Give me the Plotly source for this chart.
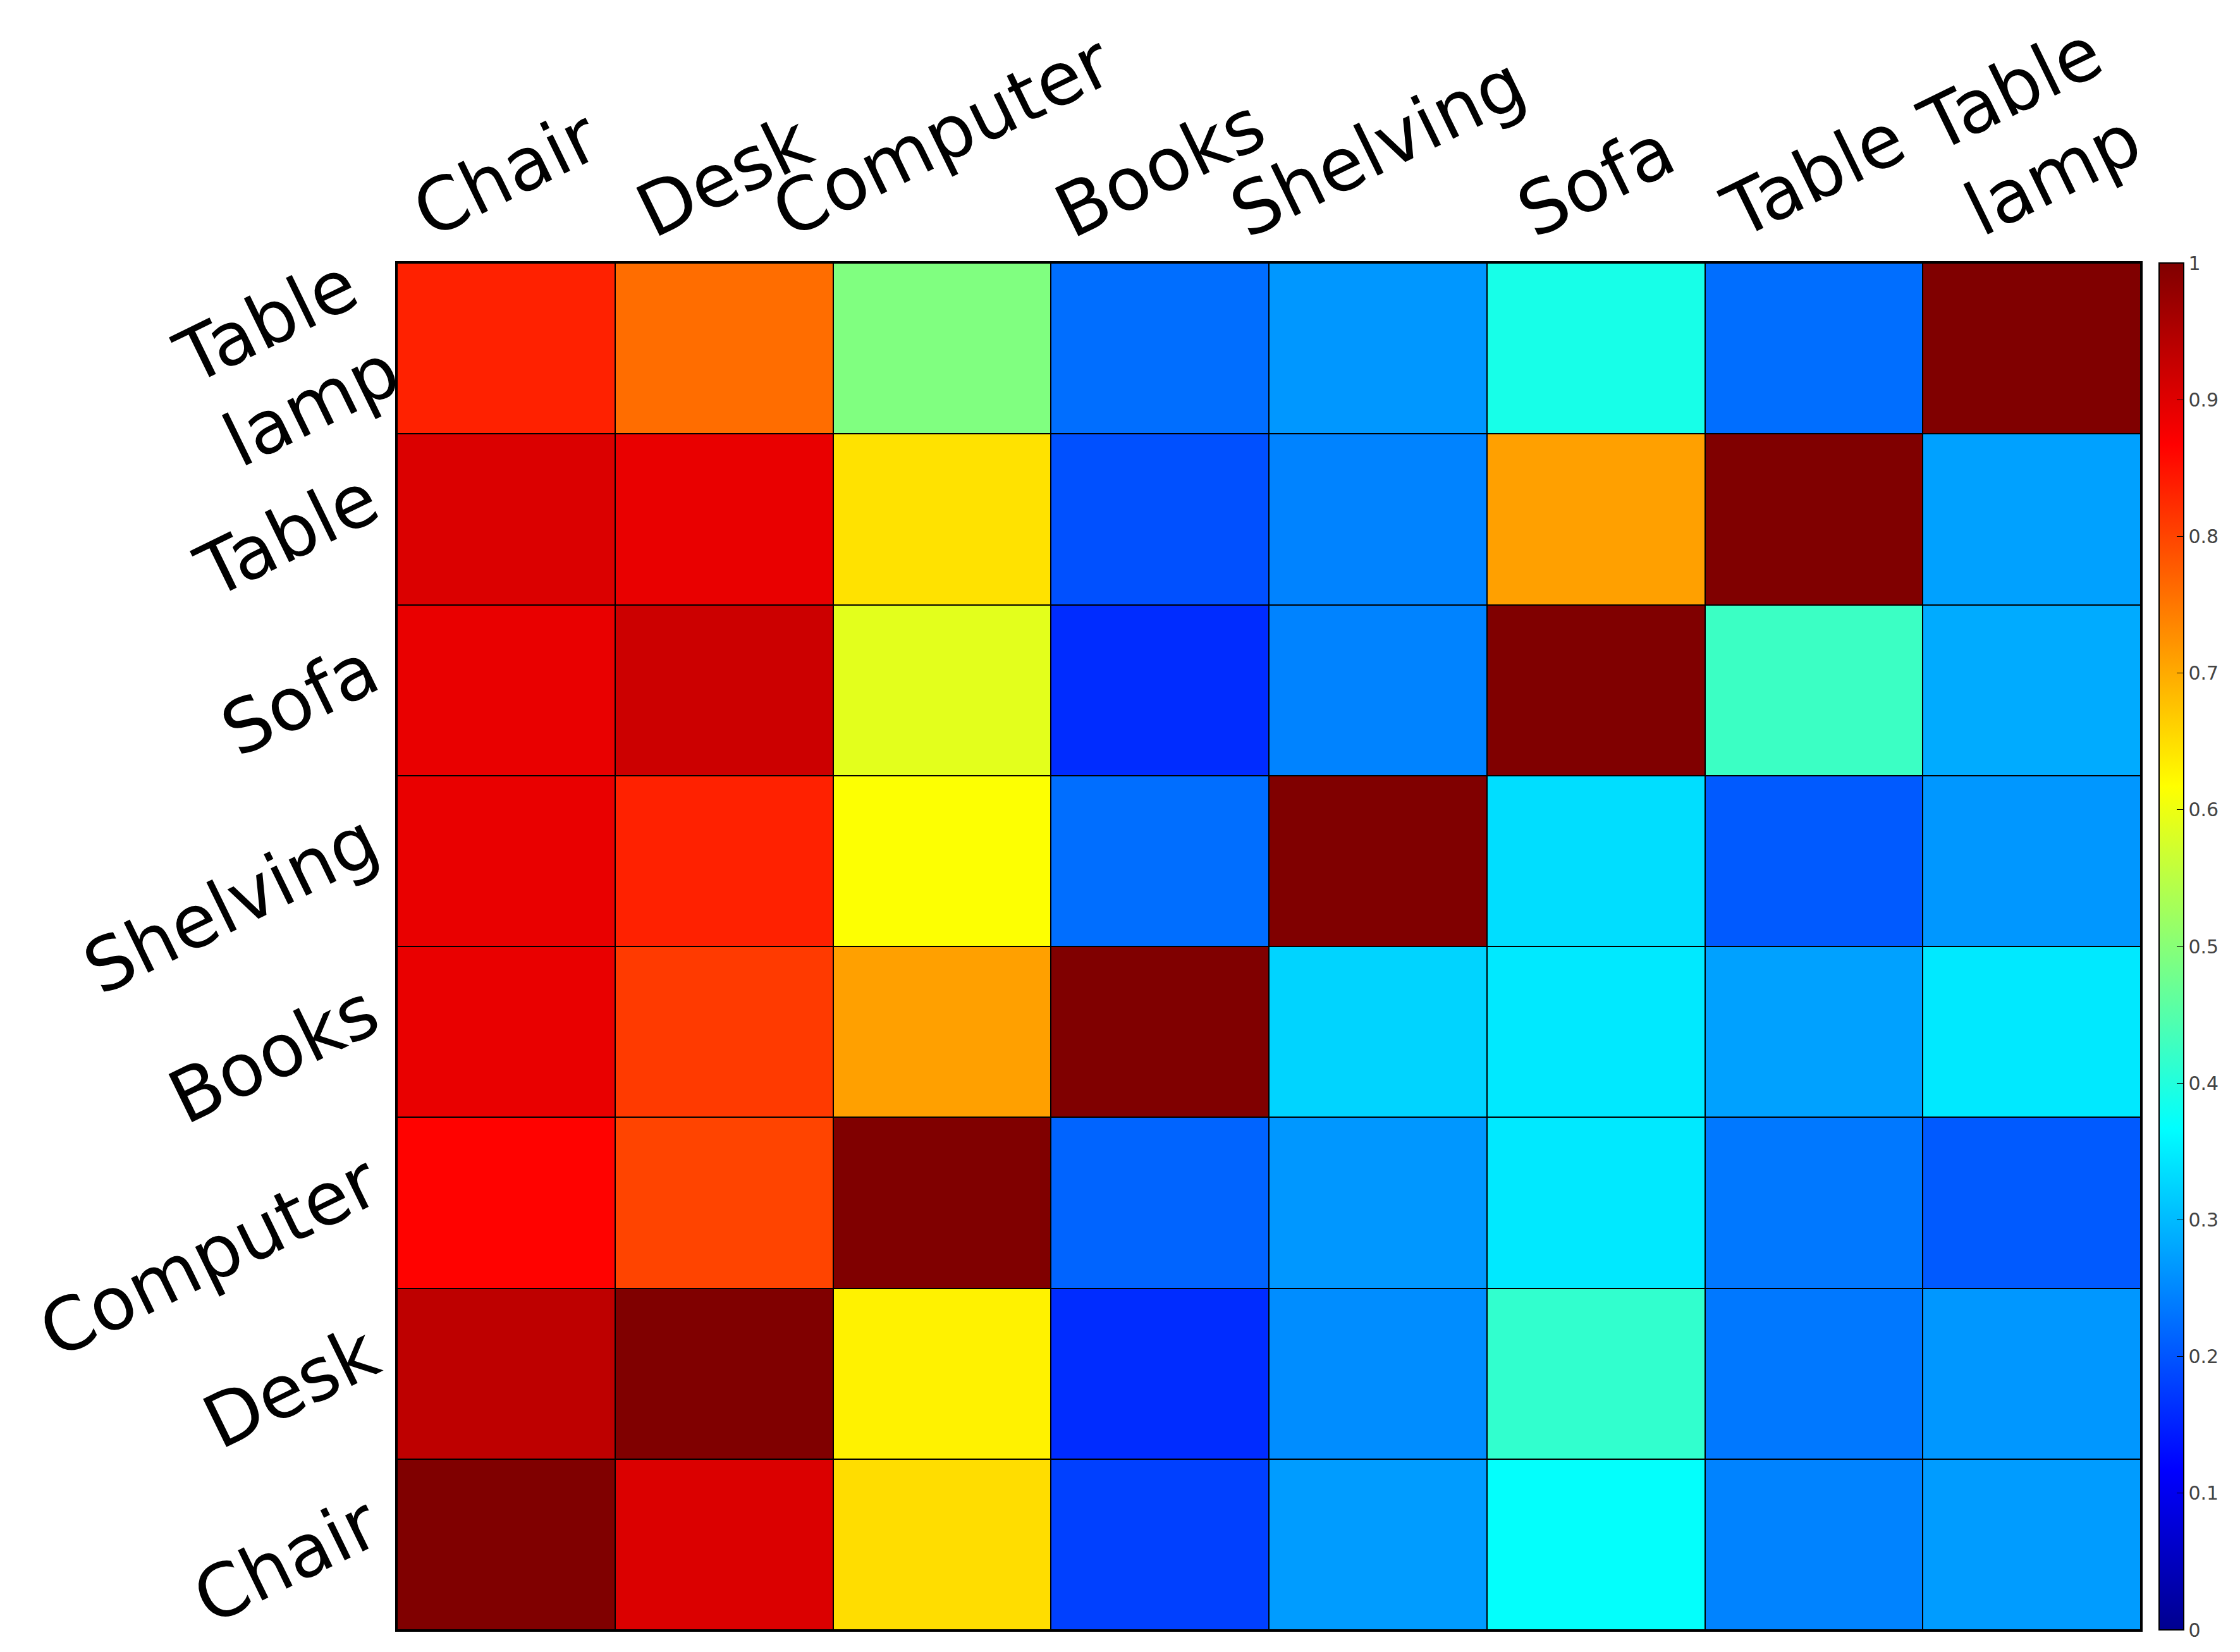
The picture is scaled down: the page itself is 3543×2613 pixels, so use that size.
import plotly.graph_objects as go

x_labels = ["Chair", "Desk", "Computer", "Books", "Shelving", "Sofa", "Table", "Table<br>lamp"]
y_labels = ["Chair", "Desk", "Computer", "Books", "Shelving", "Sofa", "Table", "Table<br>lamp"]

# rows listed bottom (Chair) to top (Table lamp); columns Chair..Table lamp
row_chair      = [1.00, 0.905, 0.65, 0.18, 0.27, 0.37, 0.245, 0.27]
row_desk       = [0.935, 1.00, 0.63, 0.16, 0.255, 0.415, 0.235, 0.265]
row_computer   = [0.865, 0.80, 1.00, 0.215, 0.265, 0.345, 0.235, 0.205]
row_books      = [0.89, 0.81, 0.71, 1.00, 0.325, 0.345, 0.275, 0.345]
row_shelving   = [0.89, 0.835, 0.615, 0.225, 1.00, 0.335, 0.205, 0.265]
row_sofa       = [0.89, 0.92, 0.59, 0.16, 0.245, 1.00, 0.425, 0.285]
row_table      = [0.905, 0.89, 0.645, 0.195, 0.245, 0.71, 1.00, 0.275]
row_table_lamp = [0.835, 0.76, 0.492, 0.225, 0.265, 0.39, 0.225, 1.00]

z = [row_chair, row_desk, row_computer, row_books, row_shelving, row_sofa, row_table, row_table_lamp]

cbar_ticks = [0, 0.1, 0.2, 0.3, 0.4, 0.5, 0.6, 0.7, 0.8, 0.9, 1]
cbar_ticktext = ["0", "0.1", "0.2", "0.3", "0.4", "0.5", "0.6", "0.7", "0.8", "0.9", "1"]

jet = [
    [0.0, "rgb(0,0,143)"],
    [0.117, "rgb(0,0,255)"],
    [0.367, "rgb(0,255,255)"],
    [0.617, "rgb(255,255,0)"],
    [0.867, "rgb(255,0,0)"],
    [1.0, "rgb(128,0,0)"],
]

LABEL_FONT = dict(family="DejaVu Sans", size=116, color="black")

fig = go.Figure(go.Heatmap(
    z=z, x=list(range(8)), y=list(range(8)),
    colorscale=jet, zmin=0, zmax=1,
    xgap=2, ygap=2,
    colorbar=dict(
        x=1.0105, xanchor="left", xpad=0, ypad=0,
        thickness=39, len=1.0, y=0.5, yanchor="middle",
        outlinecolor="black", outlinewidth=2,
        tickvals=cbar_ticks, ticktext=cbar_ticktext,
        ticks="inside", ticklen=12, tickcolor="black",
        tickfont=dict(family="DejaVu Sans", size=30, color="#444"),
    ),
))

# top category labels as rotated, centred annotations
for i, lab in enumerate(x_labels):
    fig.add_annotation(
        x=i, xref="x", y=1, yref="paper",
        text=lab, showarrow=False, textangle=-26,
        xanchor="center", yanchor="bottom", yshift=12,
        borderpad=0, font=LABEL_FONT, align="center",
    )

fig.update_xaxes(
    side="top", tickmode="array", tickvals=list(range(8)), ticktext=x_labels,
    showticklabels=False, automargin=False,
    showgrid=False, zeroline=False, ticks="", range=[-0.5, 7.5],
    showline=True, linecolor="black", linewidth=3, mirror=True,
)
fig.update_yaxes(
    tickmode="array", tickvals=list(range(8)), ticktext=y_labels,
    tickangle=-26, tickfont=LABEL_FONT, automargin=False,
    ticklabelstandoff=20, ticklabelshift=-40, ticklabeloverflow="allow",
    showgrid=False, zeroline=False, ticks="", range=[-0.5, 7.5],
    showline=True, linecolor="black", linewidth=3, mirror=True,
)

fig.update_layout(
    width=3543, height=2613,
    margin=dict(l=620, r=165, t=408, b=43),
    plot_bgcolor="black", paper_bgcolor="white",
)

fig.write_html("out.html")
